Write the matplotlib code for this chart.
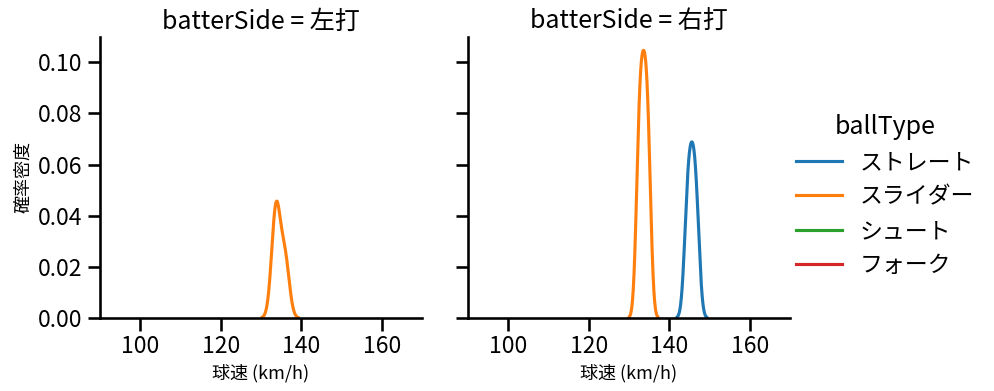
import pandas as pd
import seaborn as sns
import matplotlib.pyplot as plt

# 打者の左右別 球種ごとの球速分布 (kde)
sides = ['左打', '右打']
ball_types = ['ストレート', 'スライダー', 'シュート', 'フォーク']

# 左打
left_straight = [146.0]
left_slider = [133.5, 134.0, 136.0]
left_fork = [131.0]

# 右打
right_straight = [144.35, 145.2, 146.0, 146.85]
right_slider = [132.2, 132.8, 133.3, 133.9, 134.4, 135.0]
right_shoot = [141.0]
right_fork = [130.0]

pitches = {
    ('左打', 'ストレート'): left_straight,
    ('左打', 'スライダー'): left_slider,
    ('左打', 'フォーク'): left_fork,
    ('右打', 'ストレート'): right_straight,
    ('右打', 'スライダー'): right_slider,
    ('右打', 'シュート'): right_shoot,
    ('右打', 'フォーク'): right_fork,
}
rows = []
for (side, bt), speeds in pitches.items():
    for s in speeds:
        rows.append({'batterSide': side, 'ballType': bt, 'speed': s})
df = pd.DataFrame(rows)

sns.set_context('talk')
plt.rcParams['font.family'] = ['Noto Sans CJK JP', 'DejaVu Sans']

g = sns.displot(df, x='speed', hue='ballType', col='batterSide', kind='kde',
                hue_order=ball_types, col_order=sides, height=3.5,
                palette='tab10', warn_singular=False)
g.set_axis_labels('球速 (km/h)', '確率密度', fontsize=13)
g.set(xlim=(90, 170))

fig = g.figure
fig.set_size_inches(9.95, 3.91)
fig.subplots_adjust(left=0.1005, right=0.794, bottom=0.1867, top=0.9054, wspace=0.143)

fig.savefig('out.png', dpi=100)
